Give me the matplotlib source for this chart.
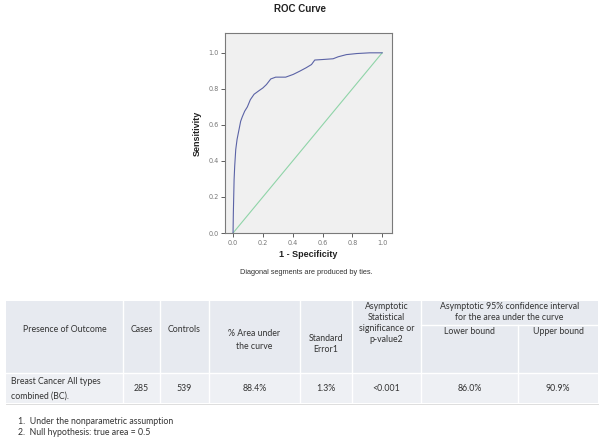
import matplotlib
matplotlib.use("Agg")
import matplotlib.pyplot as plt
from matplotlib.patches import Rectangle

# ---- ROC data ----
fpr = [0.0, 0.002, 0.007, 0.011, 0.018, 0.027, 0.040, 0.051, 0.062, 0.078, 0.096,
       0.116, 0.141, 0.174, 0.200, 0.224, 0.253, 0.286, 0.353, 0.403, 0.447, 0.490,
       0.526, 0.548, 0.604, 0.671, 0.705, 0.760, 0.830, 0.917, 1.0]
tpr = [0.0, 0.111, 0.296, 0.370, 0.463, 0.520, 0.574, 0.620, 0.645, 0.676, 0.700,
       0.740, 0.770, 0.790, 0.805, 0.824, 0.855, 0.865, 0.865, 0.880, 0.898, 0.917,
       0.935, 0.960, 0.963, 0.967, 0.978, 0.990, 0.996, 1.0, 1.0]
ref_line = [0.0, 1.0]
ticks = [0.0, 0.2, 0.4, 0.6, 0.8, 1.0]

# ---- table data ----
header_cols = [["Presence of Outcome"], ["Cases"], ["Controls"], ["% Area under", "the curve"],
               ["Standard", "Error1"], ["Asymptotic", "Statistical", "significance or", "p-value2"]]
ci_header = ["Asymptotic 95% confidence interval", "for the area under the curve"]
ci_sub = ["Lower bound", "Upper bound"]
row_label = ["Breast Cancer All types", "combined (BC)."]
row_values = ["285", "539", "88.4%", "1.3%", "<0.001", "86.0%", "90.9%"]
footnotes = ["1.  Under the nonparametric assumption", "2.  Null hypothesis: true area = 0.5"]

W, H = 600, 444
fig = plt.figure(figsize=(6, 4.44), dpi=100)
fig.patch.set_facecolor("white")

# ---- ROC axes ----
ax = fig.add_axes([225 / W, 1 - 233 / H, (392 - 225) / W, (233 - 33) / H])
ax.set_facecolor("#f0f0f0")
ax.plot(ref_line, ref_line, color="#8fd4a8", lw=0.8)
ax.plot(fpr, tpr, color="#5b63a6", lw=0.8)
ax.set_xlim(-0.054, 1.066)
ax.set_ylim(0, 1.11)
ax.set_xticks(ticks)
ax.set_yticks(ticks)
ax.set_xticklabels([f"{t:.1f}" for t in ticks])
ax.set_yticklabels([f"{t:.1f}" for t in ticks])
for s in ax.spines.values():
    s.set_color("#7a7a7a")
    s.set_linewidth(0.8)
ax.tick_params(axis="both", labelsize=4.7, colors="#444444", labelcolor="#777777",
               length=3, width=0.6, pad=1.5)
ax.tick_params(axis="x", pad=2)
lab = dict(fontfamily="Liberation Sans", fontweight="bold", fontsize=6.5, color="#222222")
ax.set_ylabel("Sensitivity", labelpad=5, **lab)
ax.set_xlabel("1 - Specificity", labelpad=3, **lab)

fig.text(300 / W, 1 - 9 / H, "ROC Curve", ha="center", va="center",
         fontfamily="Liberation Sans", fontweight="bold", fontsize=7, color="#222222")
fig.text(306 / W, 1 - 272 / H, "Diagonal segments are produced by ties.", ha="center",
         va="center", fontfamily="Liberation Sans", fontsize=5.3, color="#333333")

# ---- table ----
ta = fig.add_axes([0, 0, 1, 1])
ta.set_xlim(0, W)
ta.set_ylim(H, 0)
ta.axis("off")

xb = [6, 123, 160, 209, 300, 352, 421, 518, 598]
top, mid_ci, sep, bot = 301, 325, 373, 403
hdr_c = "#e7eaf0"
row_c = "#eef0f4"
ta.add_patch(Rectangle((xb[0], top), xb[-1] - xb[0], sep - top, facecolor=hdr_c, edgecolor="none"))
ta.add_patch(Rectangle((xb[0], sep), xb[-1] - xb[0], bot - sep, facecolor=row_c, edgecolor="none"))
for x in xb[1:-1]:
    y0 = mid_ci if x == 518 else top
    ta.plot([x, x], [y0, bot], color="white", lw=1.0)
ta.plot([xb[0], xb[-1]], [sep, sep], color="white", lw=1.0)
ta.plot([421, xb[-1]], [mid_ci, mid_ci], color="white", lw=1.0)
ta.plot([xb[0], xb[-1]], [bot + 1, bot + 1], color="#d8d8d8", lw=0.6)

tf = dict(fontfamily="Lato", fontsize=6.3, color="#333333")


def lines(x, y0, step, txts, ha="center"):
    for k, t in enumerate(txts):
        ta.text(x, y0 + step * k, t, ha=ha, va="center", **tf)


hdr_y0 = [329, 329, 329, 333, 338, 306]
hdr_step = [0, 0, 0, 13, 11, 11]
for i, txt in enumerate(header_cols):
    cx = (xb[i] + xb[i + 1]) / 2
    lines(cx, hdr_y0[i], hdr_step[i], txt)
lines((421 + xb[-1]) / 2, 306, 11, ci_header)
ta.text((421 + 518) / 2, 331, ci_sub[0], ha="center", va="center", **tf)
ta.text((518 + xb[-1]) / 2, 331, ci_sub[1], ha="center", va="center", **tf)

lines(11, 381, 15, row_label, ha="left")
for i, v in enumerate(row_values):
    cx = (xb[i + 1] + xb[i + 2]) / 2
    ta.text(cx, 388, v, ha="center", va="center", **tf)

lines(18, 421, 11, footnotes, ha="left")

fig.savefig("out.png", dpi=100, facecolor="white")
